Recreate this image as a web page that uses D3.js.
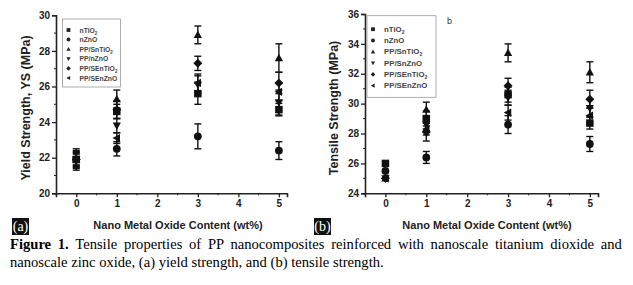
<!DOCTYPE html>
<html lang="en">
<head>
<meta charset="UTF-8">
<title>Figure 1</title>
<script src="https://cdn.jsdelivr.net/npm/d3@7"></script>
<style>
  body { margin: 0; background: #fff; }
  svg text { font-family: "Liberation Sans", Arial, sans-serif; }
  .tick text { font-weight: bold; font-size: 10px; fill: #222; }
  .cap { font-family: "Liberation Serif", "Times New Roman", serif !important; font-size: 14.6px; }
</style>
</head>
<body>
<svg width="633" height="285"></svg>
<script>
// x values (wt%)
var contents = [0, 1, 3, 5];

// (a) yield strength, MPa
var seriesA = ["nTiO2", "nZnO", "PP/SnTiO2", "PP/nZnO", "PP/SEnTiO2", "PP/SEnZnO"];
var yieldVals = [
  [21.9, 24.6, 25.6, 24.7],
  [21.9, 22.5, 23.2, 22.4],
  [21.9, 25.3, 28.9, 27.6],
  [21.9, 23.8, 26.1, 25.1],
  [21.9, 24.7, 27.3, 26.2],
  [21.9, 23.1, 26.2, 25.7]
];
var yieldErr = [
  [0.6, 0.4, 0.6, 0.35],
  [0.4, 0.4, 0.7, 0.5],
  [0.5, 0.5, 0.5, 0.8],
  [0.45, 0.4, 0.5, 0.7],
  [0.35, 0.5, 0.4, 0.6],
  [0.3, 0.3, 0.5, 0.5]
];

// (b) tensile strength, MPa
var seriesB = ["nTiO2", "nZnO", "PP/SnTiO2", "PP/SnZnO", "PP/SEnTiO2", "PP/SEnZnO"];
var tensileVals = [
  [26.0, 29.0, 30.6, 28.7],
  [25.5, 26.4, 28.6, 27.3],
  [25.0, 29.6, 33.4, 32.1],
  [25.0, 28.6, 30.4, 29.7],
  [25.0, 28.1, 31.2, 30.3],
  [25.0, 28.3, 29.4, 29.2]
];
var tensileErr = [
  [0, 0.5, 0.5, 0.4],
  [0, 0.4, 0.6, 0.5],
  [0, 0.5, 0.6, 0.7],
  [0, 0.4, 0.5, 0.6],
  [0, 0.6, 0.5, 0.6],
  [0, 0.4, 0.5, 0.5]
];

var yTicksA = [20, 22, 24, 26, 28, 30];
var yTicksB = [24, 26, 28, 30, 32, 34, 36];
var xTicks = [0, 1, 2, 3, 4, 5];

var svg = d3.select("svg");

// marker shapes: square, circle, up, down, diamond, left
function markerPath(i, s) {
  var h = s / 2;
  if (i === 0) return "M" + (-h) + "," + (-h) + "h" + s + "v" + s + "h" + (-s) + "Z";
  if (i === 1) return d3.symbol().type(d3.symbolCircle).size(s * s * 0.85)();
  if (i === 2) return "M0," + (-h * 1.15) + "L" + (h * 1.1) + "," + (h * 0.85) + "L" + (-h * 1.1) + "," + (h * 0.85) + "Z";
  if (i === 3) return "M0," + (h * 1.15) + "L" + (h * 1.1) + "," + (-h * 0.85) + "L" + (-h * 1.1) + "," + (-h * 0.85) + "Z";
  if (i === 4) return "M0," + (-h * 1.2) + "L" + (h * 1.2) + ",0L0," + (h * 1.2) + "L" + (-h * 1.2) + ",0Z";
  return "M" + (-h * 1.15) + ",0L" + (h * 0.85) + "," + (-h * 1.1) + "L" + (h * 0.85) + "," + (h * 1.1) + "Z";
}

function subLabel(sel, name) {
  // trailing "2" drawn as subscript
  if (/2$/.test(name)) {
    sel.append("tspan").text(name.slice(0, -1));
    sel.append("tspan").attr("font-size", "0.65em").attr("dy", 2).text("2");
  } else {
    sel.text(name);
  }
}

function panel(opt) {
  var x = d3.scaleLinear().domain([-0.5, 5.2]).range([opt.x0, opt.x1]);
  var y = d3.scaleLinear().domain(opt.ydom).range([193.3, opt.ytop]);
  var g = svg.append("g");

  // axes
  var ya = g.append("g").attr("transform", "translate(" + opt.x0 + ",0)")
    .call(d3.axisLeft(y).tickValues(opt.yticks).tickSize(4).tickPadding(2).tickFormat(d3.format("d")));
  var minorY = d3.range(opt.ydom[0] + 1, opt.ydom[1], 2);
  ya.selectAll(".minor").data(minorY).enter().append("line")
    .attr("x1", 0).attr("x2", -2).attr("y1", y).attr("y2", y).attr("stroke", "#222");
  var xa = g.append("g").attr("transform", "translate(0,193.3)")
    .call(d3.axisBottom(x).tickValues(xTicks).tickSize(4).tickPadding(3).tickFormat(d3.format("d")));
  xa.selectAll(".minor").data(d3.range(-0.5, 5.2, 1)).enter().append("line")
    .attr("x1", x).attr("x2", x).attr("y1", 0).attr("y2", 2).attr("stroke", "#222");
  g.selectAll(".domain").attr("stroke", "#222").attr("stroke-width", 1.6);
  g.selectAll(".tick line").attr("stroke", "#222").attr("stroke-width", 1.3);

  // axis titles
  g.append("text").attr("x", opt.xt).attr("y", 229).attr("text-anchor", "middle")
    .attr("font-weight", "bold").attr("font-size", "11px").attr("fill", "#222")
    .text("Nano Metal Oxide Content (wt%)");
  g.append("text").attr("transform", "translate(" + opt.yx + ",108) rotate(-90)")
    .attr("text-anchor", "middle").attr("font-weight", "bold").attr("font-size", "12.5px").attr("fill", "#222")
    .text(opt.ytitle);

  // error bars + markers
  opt.vals.forEach(function (row, si) {
    row.forEach(function (v, k) {
      var e = opt.err[si][k];
      var cx = x(contents[k]), cy = y(v);
      if (e > 0) {
        g.append("line").attr("x1", cx).attr("x2", cx).attr("y1", y(v - e)).attr("y2", y(v + e))
          .attr("stroke", "#111").attr("stroke-width", 1.4);
        [v - e, v + e].forEach(function (t) {
          g.append("line").attr("x1", cx - 3.5).attr("x2", cx + 3.5).attr("y1", y(t)).attr("y2", y(t))
            .attr("stroke", "#111").attr("stroke-width", 1.4);
        });
      }
      g.append("path").attr("d", markerPath(si, 7.5)).attr("transform", "translate(" + cx + "," + cy + ")")
        .attr("fill", "#111");
    });
  });

  // legend
  var lg = g.append("g");
  lg.append("rect").attr("x", opt.lx).attr("y", opt.ly).attr("width", opt.lw).attr("height", opt.lh)
    .attr("fill", "#fff").attr("stroke", "#999").attr("stroke-width", 0.8);
  opt.names.forEach(function (n, i) {
    var ry = opt.ly + opt.lfirst + i * opt.lstep;
    lg.append("path").attr("d", markerPath(i, 3.8)).attr("transform", "translate(" + (opt.lx + 6) + "," + ry + ")")
      .attr("fill", "#222");
    var t = lg.append("text").attr("x", opt.lx + 17).attr("y", ry + 2.5)
      .attr("font-size", opt.lfs + "px").attr("font-weight", "bold").attr("fill", "#444");
    subLabel(t, n);
  });

  // panel tag
  var tag = g.append("g");
  tag.append("rect").attr("x", opt.tagx).attr("y", 218).attr("width", 17).attr("height", 17).attr("fill", "#111");
  tag.append("text").attr("x", opt.tagx + 8.5).attr("y", 231).attr("text-anchor", "middle")
    .attr("class", "cap").style("fill", "#fff").style("font-size", "14px").text(opt.tag);
  return g;
}

panel({ x0: 56, x1: 287, ydom: [20, 30], ytop: 15.3, yticks: yTicksA, vals: yieldVals, err: yieldErr,
  names: seriesA, ytitle: "Yield Strength, YS (MPa)", xt: 178, yx: 30,
  lx: 62.5, ly: 19, lw: 58, lh: 68, lfirst: 11, lstep: 9.6, lfs: 6.8, tagx: 12, tag: "(a)" });

var gb = panel({ x0: 365, x1: 598, ydom: [24, 36], ytop: 14, yticks: yTicksB, vals: tensileVals, err: tensileErr,
  names: seriesB, ytitle: "Tensile Strength (MPa)", xt: 487, yx: 338,
  lx: 367, ly: 15.7, lw: 69, lh: 81.6, lfirst: 13.5, lstep: 11.3, lfs: 7.8, tagx: 314, tag: "(b)" });
gb.append("text").attr("x", 447).attr("y", 24).attr("font-size", "9px").attr("fill", "#333").text("b");

// caption, first line justified
var cap1 = svg.append("text").attr("class", "cap").attr("x", 10).attr("y", 249).style("fill", "#000");
cap1.append("tspan").attr("font-weight", "bold").text("Figure 1.");
cap1.append("tspan").text(" Tensile properties of PP nanocomposites reinforced with nanoscale titanium dioxide and");
var natural = cap1.node().getComputedTextLength();
var gaps = 13;
cap1.attr("word-spacing", ((625 - 10 - natural) / gaps) + "px");
svg.append("text").attr("class", "cap").attr("x", 10).attr("y", 267).style("fill", "#000")
  .text("nanoscale zinc oxide, (a) yield strength, and (b) tensile strength.");
</script>
</body>
</html>
